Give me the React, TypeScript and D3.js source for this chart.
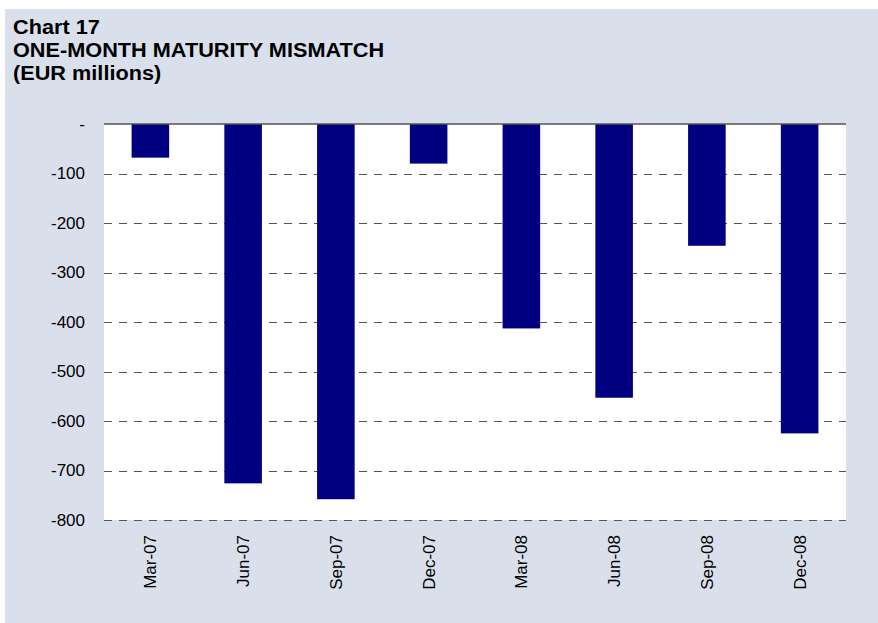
import React, { useEffect, useRef } from 'react';
import * as d3 from 'd3';

const categories = ['Mar-07', 'Jun-07', 'Sep-07', 'Dec-07', 'Mar-08', 'Jun-08', 'Sep-08', 'Dec-08'];
const values = [-68, -726, -758, -80, -413, -553, -246, -625];
const yTicks = [0, -100, -200, -300, -400, -500, -600, -700, -800];
const titleLines = ['Chart 17', 'ONE-MONTH MATURITY MISMATCH', '(EUR millions)'];

const W = 878;
const H = 623;

const App: React.FC = () => {
  const svgRef = useRef<SVGSVGElement>(null);

  useEffect(() => {
    if (!svgRef.current) return;
    const svg = d3.select(svgRef.current);
    svg.selectAll('*').remove();

    const font = 'Arial, "Liberation Sans", sans-serif';
    const plot = { left: 104, right: 846, top: 124, bottom: 520 };

    // panel background
    svg.append('rect')
      .attr('x', 5).attr('y', 9)
      .attr('width', W - 5).attr('height', H - 9)
      .attr('fill', '#d9e0ec');

    // titles - the original type is a touch wider than Arial, so stretch it a bit
    svg.selectAll('text.title')
      .data(titleLines)
      .join('text')
      .attr('class', 'title')
      .attr('transform', (_, i) => `translate(13, ${33.5 + i * 23.3}) scale(1.085, 1)`)
      .attr('font-family', font)
      .attr('font-weight', 'bold')
      .attr('font-size', '20px')
      .attr('fill', '#000')
      .text(d => d);

    const x = d3.scaleBand<string>()
      .domain(categories)
      .range([plot.left, plot.right])
      .padding(0);

    const y = d3.scaleLinear()
      .domain([-800, 0])
      .range([plot.bottom, plot.top]);

    // plot area
    svg.append('rect')
      .attr('x', plot.left).attr('y', plot.top)
      .attr('width', plot.right - plot.left)
      .attr('height', plot.bottom - plot.top)
      .attr('fill', '#fff');

    // dashed gridlines
    svg.selectAll('line.grid')
      .data(yTicks.filter(t => t !== 0))
      .join('line')
      .attr('class', 'grid')
      .attr('x1', plot.left).attr('x2', plot.right)
      .attr('y1', d => Math.round(y(d)) + 0.5)
      .attr('y2', d => Math.round(y(d)) + 0.5)
      .attr('stroke', '#555')
      .attr('stroke-width', 1)
      .attr('stroke-dasharray', '8,7');

    // bars
    const barW = x.bandwidth() * 0.405;
    svg.selectAll('rect.bar')
      .data(values)
      .join('rect')
      .attr('class', 'bar')
      .attr('x', (_, i) => (x(categories[i]) || 0) + (x.bandwidth() - barW) / 2)
      .attr('y', y(0))
      .attr('width', barW)
      .attr('height', d => y(d) - y(0))
      .attr('fill', '#000080');

    // zero axis line
    svg.append('line')
      .attr('x1', plot.left).attr('x2', plot.right)
      .attr('y1', y(0)).attr('y2', y(0))
      .attr('stroke', '#555')
      .attr('stroke-width', 1.5);

    // y tick labels (plain hyphen for negatives, "-" for zero)
    svg.selectAll('text.ytick')
      .data(yTicks)
      .join('text')
      .attr('class', 'ytick')
      .attr('x', 85)
      .attr('y', d => y(d))
      .attr('dy', '0.35em')
      .attr('text-anchor', 'end')
      .attr('font-family', font)
      .attr('font-size', '17px')
      .attr('fill', '#000')
      .text(d => (d === 0 ? '-' : String(d)));

    // x labels, rotated
    svg.selectAll('text.xtick')
      .data(categories)
      .join('text')
      .attr('class', 'xtick')
      .attr('transform', d => `translate(${(x(d) || 0) + x.bandwidth() / 2}, 535) rotate(-90)`)
      .attr('dy', '0.35em')
      .attr('text-anchor', 'end')
      .attr('font-family', font)
      .attr('font-size', '17px')
      .attr('fill', '#000')
      .text(d => d);
  }, []);

  return (
    <svg
      ref={svgRef}
      width={W}
      height={H}
      style={{ position: 'absolute', left: 0, top: 0, background: '#fff' }}
    />
  );
};

export default App;
